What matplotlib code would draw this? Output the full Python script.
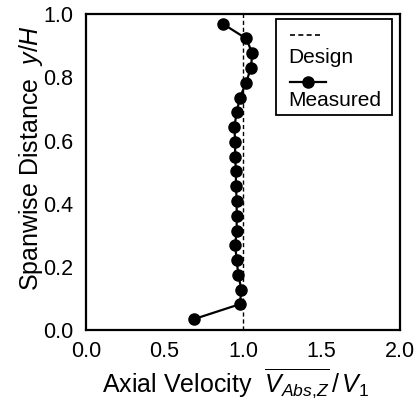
import matplotlib
matplotlib.use("Agg")
import matplotlib.pyplot as plt
from matplotlib.lines import Line2D
from matplotlib.patches import Rectangle

plt.rcParams['font.family'] = ['Liberation Sans', 'DejaVu Sans']
plt.rcParams['mathtext.fontset'] = 'custom'
plt.rcParams['mathtext.rm'] = 'Liberation Sans'
plt.rcParams['mathtext.it'] = 'Liberation Sans:italic'

# measured axial velocity profile (bottom to top)
span = [0.035, 0.082, 0.128, 0.175, 0.222, 0.269, 0.315, 0.362, 0.409, 0.456, 0.502,
        0.549, 0.596, 0.643, 0.689, 0.736, 0.783, 0.830, 0.876, 0.923, 0.970]
vel = [0.69, 0.98, 0.99, 0.97, 0.96, 0.95, 0.96, 0.96, 0.96, 0.955, 0.955,
       0.95, 0.95, 0.945, 0.96, 0.98, 1.02, 1.05, 1.06, 1.02, 0.87]
design_x = [1.0, 1.0]
design_y = [0.0, 1.0]

xticks = [0.0, 0.5, 1.0, 1.5, 2.0]
yticks = [0.0, 0.2, 0.4, 0.6, 0.8, 1.0]

fig = plt.figure(figsize=(4.15, 4.05), dpi=100)
ax = fig.add_axes([0.207, 0.185, 0.757, 0.780])

ax.plot(design_x, design_y, color='black', lw=1.0, ls=(0, (3, 2)))
ax.plot(vel, span, color='black', lw=1.6, marker='o', ms=8)

ax.set_xlim(0, 2)
ax.set_ylim(0, 1)
ax.set_xticks(xticks)
ax.set_yticks(yticks)
ax.set_xticklabels([f'{t:.1f}' for t in xticks])
ax.set_yticklabels([f'{t:.1f}' for t in yticks])
ax.tick_params(length=0, labelsize=15.5)
ax.tick_params(axis='x', pad=8)
ax.tick_params(axis='y', pad=9)
for s in ax.spines.values():
    s.set_linewidth(1.6)

ax.set_xlabel(r'Axial Velocity  $\overline{V_{Abs{,}Z}}\,/\,V_1$', fontsize=18)
ax.set_ylabel(r'Spanwise Distance  $y/H$', fontsize=18)
ax.xaxis.set_label_coords(0.475, -0.115)
ax.yaxis.set_label_coords(-0.13, 0.545)

# legend drawn by hand: handle above label
ax.add_patch(Rectangle((1.21, 0.680), 0.74, 0.306, fill=False, lw=1.3,
                       ec='black', zorder=5))
ax.add_line(Line2D([1.30, 1.51], [0.934, 0.934], color='black', lw=1.2,
                   ls=(0, (3, 2)), zorder=6))
ax.text(1.29, 0.862, 'Design', fontsize=15, va='center', ha='left', zorder=6)
ax.add_line(Line2D([1.30, 1.53], [0.786, 0.786], color='black', lw=1.6, zorder=6))
ax.add_line(Line2D([1.415], [0.786], color='black', marker='o', ms=8, zorder=6))
ax.text(1.29, 0.728, 'Measured', fontsize=15, va='center', ha='left', zorder=6)

fig.savefig('out.png', dpi=100)
